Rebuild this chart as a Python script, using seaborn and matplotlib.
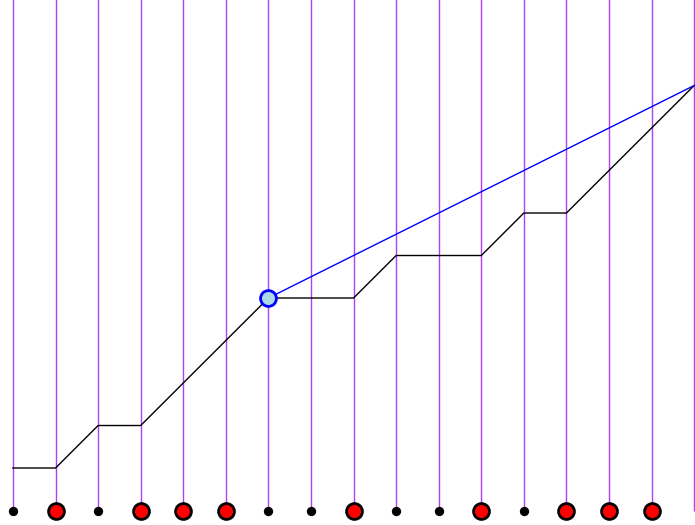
import numpy as np
import pandas as pd
import matplotlib
matplotlib.use("Agg")
import matplotlib.pyplot as plt
import seaborn as sns

# pasos: 1 = sube (rojo), 0 = plano (negro)
steps = [0, 1, 0, 1, 1, 1, 0, 0, 1, 0, 0, 1, 0, 1, 1, 1]
positions = list(range(17))
levels = [0, 0, 1, 1, 2, 3, 4, 4, 4, 5, 5, 5, 6, 6, 7, 8, 9]

# segmento azul: del punto 6 al final
blue_x = [6, 16]
blue_y = [4, 9]

df = pd.DataFrame({"pos": positions, "level": levels})
dots = pd.DataFrame({"pos": positions[:-1], "step": steps})
dots["y"] = -1

fig = plt.figure(figsize=(6.95, 5.25), dpi=100)
ax = fig.add_axes([0, 0, 1, 1])
ax.set_axis_off()

# lineas verticales
ax.vlines(positions, -1, 12, colors="#a020f0", linewidth=1, alpha=0.85, zorder=1)

sns.lineplot(data=df, x="pos", y="level", color="black", linewidth=1, ax=ax, zorder=2)
sns.lineplot(x=blue_x, y=blue_y, color="blue", linewidth=1, ax=ax, zorder=2)

flat = dots[dots["step"] == 0]
up = dots[dots["step"] == 1]
sns.scatterplot(data=flat, x="pos", y="y", color="black", s=45, linewidth=0, ax=ax, zorder=3)
sns.scatterplot(data=up, x="pos", y="y", color="red", edgecolor="black", s=130, linewidth=2, ax=ax, zorder=3)
sns.scatterplot(x=[blue_x[0]], y=[blue_y[0]], color="lightblue", edgecolor="blue", s=130, linewidth=2, ax=ax, zorder=4)

ax.set_xlim(-0.305, 16.02)
ax.set_ylim(-1.341, 11.012)

fig.savefig("out.png", dpi=100)
